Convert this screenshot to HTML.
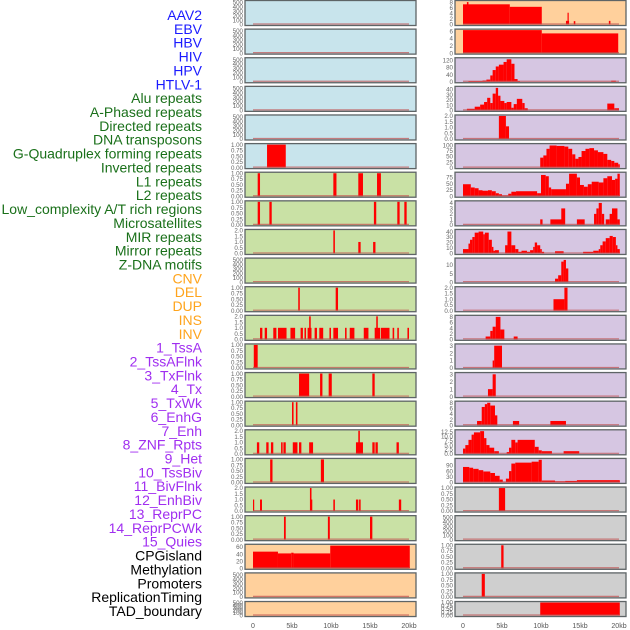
<!DOCTYPE html>
<html><head><meta charset="utf-8"><style>
html,body{margin:0;padding:0;background:#fff;}
svg{display:block;font-family:"Liberation Sans",sans-serif;}
</style></head><body>
<svg id="chart" width="630" height="630" viewBox="0 0 630 630" xmlns="http://www.w3.org/2000/svg">
<g id="labels"></g>
<g id="panels"></g>
<g id="xaxes"></g>
</svg>
<script>
const trackLabels = ["AAV2","EBV","HBV","HIV","HPV","HTLV-1","Alu repeats","A-Phased repeats","Directed repeats","DNA transposons","G-Quadruplex forming repeats","Inverted repeats","L1 repeats","L2 repeats","Low_complexity A/T rich regions","Microsatellites","MIR repeats","Mirror repeats","Z-DNA motifs","CNV","DEL","DUP","INS","INV","1_TssA","2_TssAFlnk","3_TxFlnk","4_Tx","5_TxWk","6_EnhG","7_Enh","8_ZNF_Rpts","9_Het","10_TssBiv","11_BivFlnk","12_EnhBiv","13_ReprPC","14_ReprPCWk","15_Quies","CPGisland","Methylation","Promoters","ReplicationTiming","TAD_boundary"];
const labelGroups = [6,13,5,15,5];
const labelColors = ["#1a1aff","#1a701a","#ffa41c","#a02ef0","#000000"];
const xTicks = [0,5,10,15,20];
const xTickLabels = ["0","5kb","10kb","15kb","20kb"];

const ticks500 = [0,100,200,300,400,500];
const ticks1 = [0,0.25,0.5,0.75,1];
const ticks2 = [0,0.5,1,1.5,2];

// left column segments [startKb, endKb, value]
const segL5 = [[1.8,4.2,1]];
const segL6 = [[0.6,0.9,1],[10.3,10.7,1],[13.5,14.1,1],[15.9,16.4,1]];
const segL7 = [[0.6,0.9,1],[2.1,2.4,1],[15.5,15.8,1],[18.5,18.8,1],[19.4,19.7,1]];
const segL8 = [[10.3,10.5,2],[13.5,13.8,1],[15.4,15.7,1]];
const segL10 = [[5.8,6.0,1],[10.6,10.9,1]];
const segL11 = [[0.9,1.2,1],[1.5,1.8,1],[2.6,3.0,1],[3.2,4.3,1],[4.8,5.4,1],[6.1,6.4,1],[6.6,6.8,1],[7.0,7.5,1],[7.2,7.4,2],[7.9,8.2,1],[8.5,9.0,1],[9.8,10.0,1],[10.3,10.9,1],[11.8,12.0,1],[12.4,13.0,1],[14.2,14.8,1],[15.6,16.3,1],[15.8,16.0,2],[16.4,17.5,1],[17.9,18.1,1],[18.5,18.7,1],[19.8,20.0,1]];
const segL12 = [[0.1,0.6,1]];
const segL13 = [[5.9,7.2,1],[8.6,8.9,1],[9.7,10.1,1],[15.3,15.6,1]];
const segL14 = [[5.0,5.2,1],[5.5,5.7,1]];
const segL15 = [[0.5,0.8,1],[1.7,2.0,1],[2.3,2.6,1],[3.6,3.8,1],[3.9,4.2,1],[5.1,5.7,1],[5.9,6.2,1],[7.2,7.7,1],[13.2,14.1,1],[13.5,13.7,2],[15.3,15.6,1],[15.7,16.0,1],[18.4,18.7,1]];
const segL16 = [[2.2,2.5,1],[8.7,9.1,1]];
const segL17 = [[0.0,0.15,1],[0.9,1.15,1],[7.3,7.5,2],[7.4,7.6,1],[10.3,10.5,1],[13.2,13.5,1],[13.6,13.8,1],[18.7,19.0,1]];
const segL18 = [[3.97,4.2,1],[9.6,9.85,1],[15.0,15.3,1]];
const segL19 = [[0,3.2,47],[3.2,4.9,42],[4.9,5.2,44],[5.2,9.9,42],[9.9,20.1,64]];

// right column
const segR0 = [[0,6,7.2],[0.5,0.7,8],[6,10.1,6.3],[13.2,13.6,1.3],[13.4,13.55,4.2],[14.2,14.4,1.2],[18.7,18.9,1.3]];
const segR1 = [[0,10.1,6.3],[10.1,19.9,5.4]];
const segR2 = [[0.7,2.5,4],[2.5,3,7],[3,3.5,12],[3.5,3.8,35],[3.8,4.2,65],[4.2,4.6,85],[4.6,5.2,95],[5.2,5.6,110],[5.6,6.2,125],[6.2,6.6,100],[6.6,7,15],[7,7.3,4],[19,19.6,6]];
const segR3 = [[0.5,1.5,3],[1.5,2.2,7],[2.2,2.7,11],[2.7,3.1,16],[3.1,3.5,24],[3.5,3.8,14],[3.8,4.2,32],[4.2,4.5,43],[4.5,4.8,28],[4.8,5.3,18],[5.3,5.6,14],[5.6,6.2,16],[6.2,6.5,5],[6.5,6.9,12],[6.9,7.6,22],[7.6,7.9,14],[7.9,8.3,4],[18.5,19.4,13],[19.4,20,4]];
const segR4 = [[4.6,5.5,2],[5.5,5.9,1.1]];
const segR5 = [[9.9,10.3,45],[10.3,10.7,55],[10.7,11.1,85],[11.1,12,100],[12,13,98],[13,13.5,95],[13.5,14,85],[14,14.4,60],[14.4,14.8,40],[14.8,15.2,48],[15.2,15.7,75],[15.7,16.2,85],[16.2,16.8,88],[16.8,17.3,78],[17.3,18,70],[18,18.5,62],[18.5,19,35],[19,19.4,30],[19.4,19.9,22],[19.9,20.1,15]];
const segR6 = [[0,1,48],[1,1.5,35],[1.5,2,32],[2,2.5,24],[2.5,3.2,22],[3.2,3.7,24],[3.7,4.2,20],[4.2,4.6,12],[4.6,5,8],[5,5.8,3],[5.8,6.2,10],[6.2,6.8,18],[6.8,9.5,20],[9.5,10,12],[10,10.6,85],[10.6,11,80],[11,11.3,35],[11.3,13.2,28],[13.2,13.6,50],[13.6,14.6,90],[14.6,15,75],[15,15.5,45],[15.5,16,38],[16,16.5,48],[16.5,17.4,58],[17.4,18,55],[18,18.5,72],[18.5,19.1,80],[19.1,19.5,65],[19.5,19.8,70],[19.8,20.1,90]];
const segR7 = [[9.9,10.2,1],[11.2,12.9,1],[12.6,13.1,3],[14.6,15.6,1],[16.8,17.1,2],[17.1,17.4,3],[17.4,17.8,4],[17.8,18.1,2],[18.3,18.8,1],[18.8,19.1,2],[19.1,19.8,3],[19.8,20.1,1]];
const segR8 = [[0,0.7,8],[0.7,0.9,18],[0.9,1.2,25],[1.2,1.5,30],[1.5,2.0,38],[2.0,2.6,40],[2.6,2.8,35],[2.8,3.3,38],[3.3,3.7,25],[3.7,3.9,12],[3.9,4.1,5],[4.1,4.6,6],[5.4,5.7,15],[5.7,6.2,40],[6.2,6.7,15],[6.7,7.1,8],[7.1,7.5,3],[7.5,8.2,5],[8.2,8.6,3],[8.6,9.0,6],[9.0,9.2,12],[9.2,9.5,20],[9.5,9.9,15],[9.9,10.1,8],[10.1,10.4,3],[11.8,12.9,4],[15.4,16.7,3],[16.7,17.4,5],[17.4,17.6,8],[17.6,17.9,15],[17.9,18.3,22],[18.3,18.8,28],[18.8,19.2,32],[19.2,19.6,30],[19.6,19.8,15],[19.8,20.1,8]];
const segR9 = [[11.8,12.2,2],[12.2,12.6,4],[12.6,12.9,12],[12.9,13.2,13],[13.2,13.5,8]];
const segR10 = [[11.6,13.0,1],[13.0,13.4,2]];
const segR11 = [[2.9,3.5,1],[3.5,3.8,3],[3.8,4.2,4.5],[4.2,4.8,8],[4.8,5.3,3.5],[6.5,7.0,1]];
const segR12 = [[3.8,4.0,1],[4.0,5.0,3]];
const segR13 = [[3.2,3.8,1],[3.8,4.2,3]];
const segR14 = [[1.8,2.4,1.5],[2.4,2.8,6.5],[2.8,3.1,7.5],[3.1,3.5,8],[3.5,4.1,7],[4.1,4.4,3.5],[6.4,7.2,1.5],[11.2,13.2,1.5]];
const segR15 = [[0,0.3,3],[0.3,0.7,5],[0.7,1.1,8],[1.1,1.4,11],[1.4,2.2,12.3],[2.2,2.7,13],[2.7,3.0,9],[3.0,3.4,5],[3.4,4.0,3.5],[4.0,4.6,1.5],[5.6,5.9,1],[5.9,6.2,3.5],[6.2,6.7,8],[6.7,7.0,6.5],[7.0,9.2,8],[9.2,9.7,4],[9.7,10.1,2],[10.1,11.4,1.5],[12.9,14.9,1.5]];
const segR16 = [[0,0.8,82],[0.8,1.3,78],[1.3,2.0,72],[2.0,2.6,65],[2.6,3.5,58],[3.5,4.1,50],[4.1,4.7,35],[4.7,5.1,15],[5.1,5.5,3],[5.5,5.9,20],[5.9,6.2,60],[6.2,6.7,100],[6.7,8.8,105],[8.8,9.7,110],[9.7,10.1,120],[10.1,11.8,10],[11.8,13.1,6],[13.1,14.6,8],[14.6,20.1,12]];
const segR17 = [[4.6,5.4,1]];
const segR19 = [[4.9,5.2,1]];
const segR20 = [[2.4,2.8,1]];
const segR21 = [[9.9,20.1,1]];

const BLUE="#c8e4ec", GREEN="#c9e1a5", ORANGE="#ffd09c", PURPLE="#d6c6e2", GRAY="#cfcfcf";
const leftPanels = [
 [BLUE,ticks500,520,[]],[BLUE,ticks500,520,[]],[BLUE,ticks500,520,[]],[BLUE,ticks500,520,[]],[BLUE,ticks500,520,[]],
 [BLUE,ticks1,1,segL5],[GREEN,ticks1,1,segL6],[GREEN,ticks1,1,segL7],[GREEN,ticks2,2,segL8],[GREEN,ticks500,520,[]],
 [GREEN,ticks1,1,segL10],[GREEN,ticks2,2,segL11],[GREEN,ticks1,1,segL12],[GREEN,ticks1,1,segL13],[GREEN,ticks1,1,segL14],
 [GREEN,ticks2,2,segL15],[GREEN,ticks1,1,segL16],[GREEN,ticks2,2,segL17],[GREEN,ticks1,1,segL18],[ORANGE,[0,20,40,60],65,segL19],
 [ORANGE,ticks500,520,[]],[ORANGE,ticks500,520,[]]
];
const rightPanels = [
 [ORANGE,[0,2,4,6,8],8.2,segR0],[ORANGE,[0,2,4,6],6.3,segR1],[PURPLE,[0,40,80,120],128,segR2],[PURPLE,[0,10,20,30,40],44,segR3],
 [PURPLE,ticks2,2,segR4],[PURPLE,[0,25,50,75,100],104,segR5],[PURPLE,[0,25,50,75],92,segR6],[PURPLE,[0,1,2,3,4],4.2,segR7],
 [PURPLE,[0,10,20,30,40],42,segR8],[PURPLE,[0,5,10],13.5,segR9],[PURPLE,ticks2,2,segR10],[PURPLE,[0,2,4,6,8],8.2,segR11],
 [PURPLE,[0,1,2,3],3.1,segR12],[PURPLE,[0,1,2,3],3.1,segR13],[PURPLE,[0,2,4,6,8],8.2,segR14],[PURPLE,[0,2.5,5,7.5,10,12.5],13.2,segR15],
 [PURPLE,[0,30,60,90],122,segR16],[GRAY,ticks1,1,segR17],[GRAY,ticks500,520,[]],[GRAY,ticks1,1,segR19],[GRAY,ticks1,1,segR20],[GRAY,ticks1,1,segR21]
];

const NS="http://www.w3.org/2000/svg";
function mk(tag, attrs, parent){const e=document.createElementNS(NS,tag);for(const k in attrs)e.setAttribute(k,attrs[k]);parent.appendChild(e);return e;}
function fmt(v,t){const mx=Math.max(...t);if(t.includes(0.25))return v.toFixed(2);if(mx<=2.5||t.includes(2.5))return v.toFixed(1);return String(v);}

// labels
const lg=document.getElementById('labels');
let gi=0,cnt=0;
trackLabels.forEach((lab,i)=>{
  while(cnt>=labelGroups[gi]){gi++;cnt=0;}
  cnt++;
  const t=mk('text',{x:202,y:20+i*13.86,'text-anchor':'end','font-size':'14',fill:labelColors[gi]},lg);
  t.textContent=lab;
  
  
});

const pg=document.getElementById('panels');
function rowTop(i){return 0.5+i*28.62;}
function drawColumn(panels, px, x0, side){
  panels.forEach((p,i)=>{
    const [bg,ticks,ymax,segs]=p;
    const top=rowTop(i), h=(i===21?15:25);
    const g=mk('g',{},pg);
    
    
    mk('rect',{x:px,y:top,width:171,height:h,fill:bg,stroke:'#5e6466','stroke-width':1.3},g);
    const y0=top+h-1, yt=top+1;
    const ys=v=>y0-(v/ymax)*(y0-yt);
    const xs=k=>x0+k*7.8;
    segs.forEach(s=>{
      const r=mk('rect',{x:xs(s[0]),y:ys(s[2]),width:Math.max(1.2,xs(s[1])-xs(s[0])),height:y0-ys(s[2]),fill:'#ff0000'},g);
      
      
    });
    mk('line',{x1:xs(0),x2:xs(20),y1:y0-0.5,y2:y0-0.5,stroke:'#c05050','stroke-opacity':0.7,'stroke-width':1.2},g);
    ticks.forEach(v=>{
      const tt=mk('text',{x:px-2,y:ys(v)+2.2,'text-anchor':'end','font-size':'6.2',fill:'#666'},g);
      tt.textContent=fmt(v,ticks);
      
      
    });
  });
}
drawColumn(leftPanels,245,253,'left');
drawColumn(rightPanels,455,463,'right');

const xg=document.getElementById('xaxes');
[253,463].forEach(x0=>{
  xTicks.forEach((k,j)=>{
    const t=mk('text',{x:x0+k*7.8,y:628,'text-anchor':'middle','font-size':'7',fill:'#555'},xg);
    t.textContent=xTickLabels[j];
    
    
  });
});
</script>
</body></html>
